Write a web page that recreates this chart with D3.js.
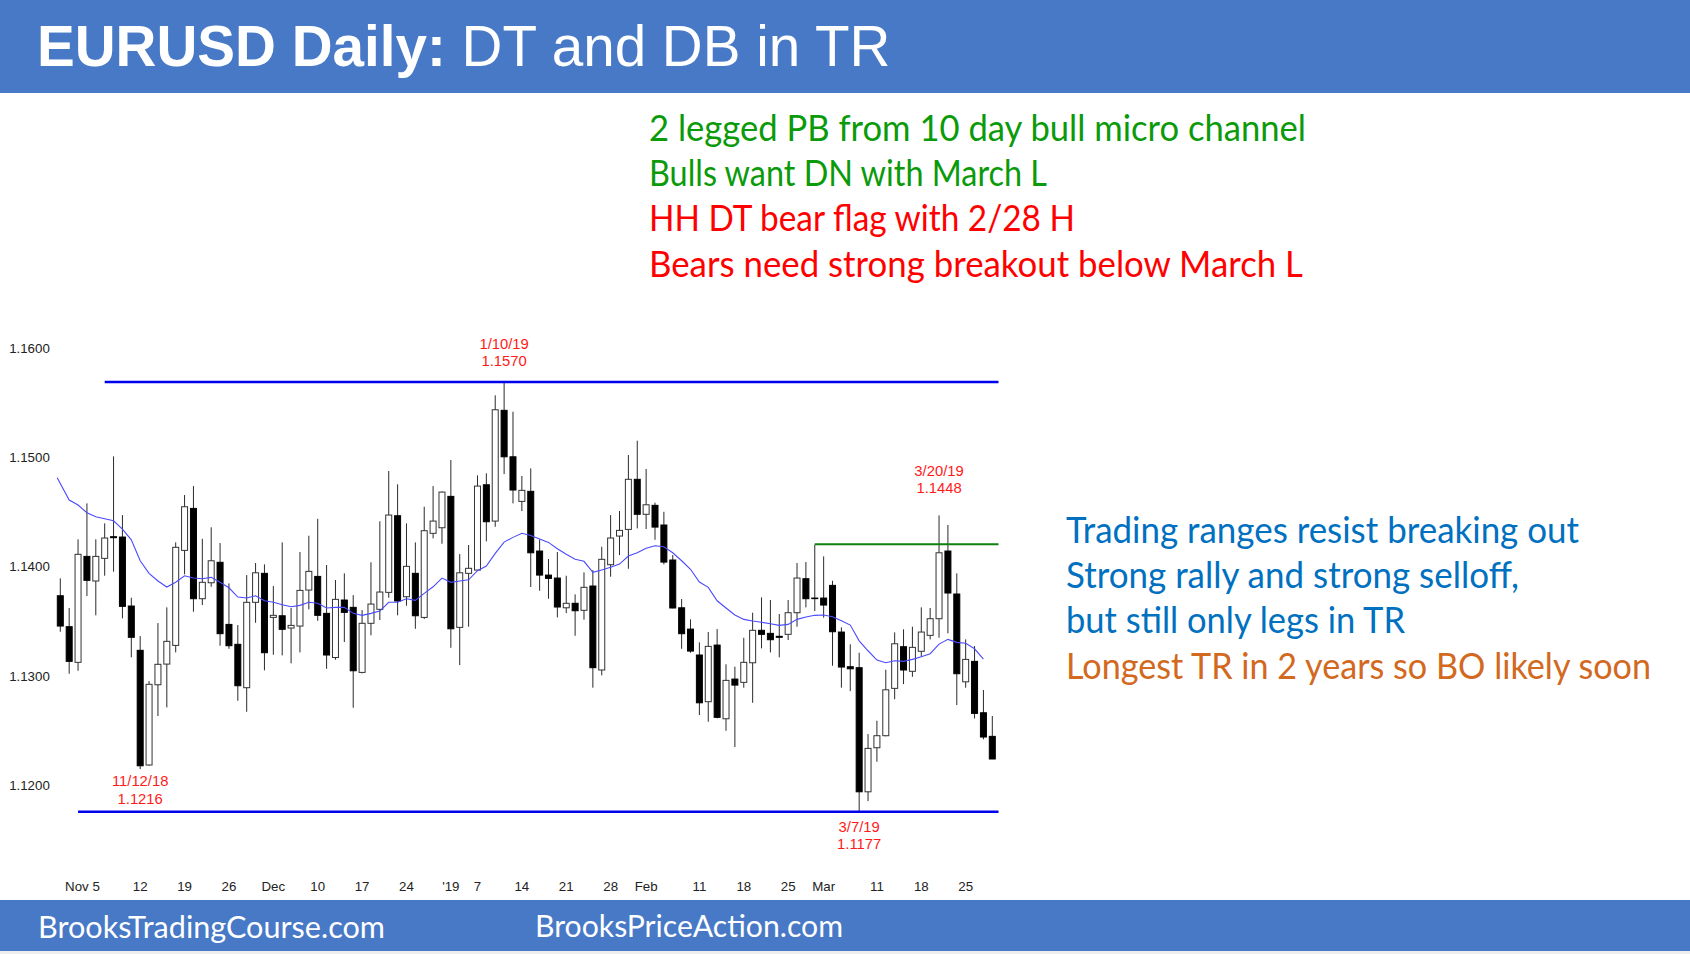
<!DOCTYPE html>
<html><head><meta charset="utf-8">
<script src="https://cdn.jsdelivr.net/npm/d3@7"></script>
<style>html,body{margin:0;padding:0;background:#fff}svg{display:block}</style></head>
<body><div id="chart"></div>
<script>
const opens=[1.13745,1.13462,1.13136,1.14105,1.13880,1.14087,1.14285,1.14282,1.13651,1.13246,1.12197,1.12931,1.13120,1.13291,1.14160,1.14544,1.13718,1.13864,1.14051,1.13483,1.13301,1.12904,1.13685,1.13950,1.13547,1.13562,1.13450,1.13468,1.13797,1.13922,1.13584,1.13180,1.13706,1.13639,1.13044,1.13493,1.13621,1.13776,1.14477,1.13736,1.13950,1.13547,1.14316,1.14367,1.14654,1.13456,1.13950,1.13980,1.14760,1.14428,1.15441,1.15016,1.14608,1.14700,1.14154,1.13934,1.13907,1.13635,1.13676,1.13612,1.13834,1.13066,1.14029,1.14291,1.14352,1.14810,1.14490,1.14572,1.14392,1.14072,1.13635,1.13440,1.13203,1.12776,1.13294,1.12620,1.12983,1.12953,1.13132,1.13429,1.13401,1.13374,1.13392,1.13590,1.13901,1.13724,1.13724,1.13840,1.13413,1.13096,1.13087,1.11952,1.12355,1.12465,1.12898,1.13279,1.13054,1.13237,1.13383,1.13535,1.14154,1.13761,1.12958,1.13145,1.12675,1.12459];
const highs=[1.13904,1.13633,1.14261,1.14590,1.14261,1.14407,1.15020,1.14483,1.13727,1.13376,1.12965,1.13495,1.13639,1.14233,1.14666,1.14748,1.14266,1.14371,1.14227,1.13858,1.13477,1.13934,1.14044,1.14032,1.13834,1.14233,1.13633,1.14145,1.14294,1.14449,1.14026,1.13889,1.13950,1.13751,1.13614,1.14051,1.14426,1.14886,1.14764,1.14407,1.14233,1.14559,1.14748,1.14700,1.14986,1.14126,1.14209,1.14846,1.14865,1.15578,1.15700,1.15428,1.14840,1.14910,1.14261,1.14081,1.14145,1.13928,1.13758,1.13959,1.13980,1.14193,1.14483,1.14520,1.15032,1.15163,1.14904,1.14596,1.14513,1.14117,1.13715,1.13529,1.13319,1.13413,1.13440,1.13118,1.13096,1.13361,1.13590,1.13730,1.13706,1.13578,1.13706,1.14044,1.14053,1.14212,1.14105,1.13882,1.13456,1.13301,1.13224,1.12480,1.12602,1.13068,1.13410,1.13438,1.13462,1.13639,1.13633,1.14480,1.14392,1.13950,1.13346,1.13285,1.12883,1.12645];
const lows=[1.13416,1.13032,1.13059,1.13742,1.13566,1.13928,1.13965,1.13538,1.13182,1.12160,1.12190,1.12645,1.12724,1.13227,1.13941,1.13599,1.13660,1.13827,1.13288,1.13260,1.12785,1.12684,1.13498,1.13063,1.13205,1.13200,1.13127,1.13227,1.13621,1.13516,1.13077,1.13160,1.13322,1.12721,1.13035,1.13383,1.13523,1.13727,1.13566,1.13654,1.13443,1.13532,1.14270,1.14221,1.13269,1.13111,1.13462,1.13974,1.14243,1.14376,1.14858,1.14590,1.14520,1.13825,1.13791,1.13718,1.13547,1.13587,1.13379,1.13526,1.12904,1.13017,1.13919,1.14117,1.13992,1.14361,1.14355,1.14257,1.14032,1.13630,1.13260,1.13224,1.12654,1.12593,1.12624,1.12510,1.12361,1.12904,1.12766,1.13264,1.13227,1.13182,1.13340,1.13462,1.13639,1.13605,1.13544,1.13105,1.12904,1.12873,1.11770,1.11867,1.12227,1.12459,1.12798,1.12937,1.13004,1.13187,1.13346,1.13361,1.13401,1.12745,1.12904,1.12622,1.12432,1.12252];
const closes=[1.13468,1.13145,1.14124,1.13886,1.14105,1.14273,1.14276,1.13648,1.13365,1.12190,1.12935,1.13118,1.13328,1.14188,1.14559,1.13718,1.13868,1.14065,1.13398,1.13288,1.12922,1.13685,1.13955,1.13224,1.13566,1.13438,1.13474,1.13794,1.13968,1.13566,1.13203,1.13712,1.13593,1.13059,1.13493,1.13669,1.13779,1.14483,1.13697,1.14014,1.13562,1.14340,1.14428,1.14693,1.13443,1.13955,1.13996,1.14748,1.14422,1.15446,1.15016,1.14712,1.14709,1.14138,1.13934,1.13904,1.13642,1.13676,1.13608,1.13822,1.13087,1.14078,1.14273,1.14343,1.14810,1.14490,1.14577,1.14373,1.14053,1.13633,1.13398,1.13239,1.12766,1.13282,1.12633,1.12971,1.12928,1.13136,1.13429,1.13392,1.13343,1.13365,1.13590,1.13907,1.13718,1.13721,1.13660,1.13416,1.13093,1.13077,1.11952,1.12349,1.12465,1.12885,1.13306,1.13066,1.13273,1.13413,1.13535,1.14138,1.13770,1.13032,1.13163,1.12669,1.12453,1.12252];
const ma20=[1.14824,1.14620,1.14575,1.14504,1.14468,1.14449,1.14431,1.14355,1.14257,1.14065,1.13950,1.13880,1.13825,1.13868,1.13928,1.13907,1.13901,1.13913,1.13868,1.13818,1.13733,1.13724,1.13745,1.13699,1.13685,1.13663,1.13644,1.13657,1.13685,1.13676,1.13633,1.13639,1.13639,1.13584,1.13566,1.13584,1.13605,1.13685,1.13685,1.13718,1.13703,1.13767,1.13827,1.13907,1.13868,1.13880,1.13891,1.13974,1.14017,1.14133,1.14236,1.14279,1.14316,1.14297,1.14264,1.14233,1.14175,1.14124,1.14078,1.14060,1.13959,1.13980,1.14005,1.14035,1.14108,1.14138,1.14179,1.14202,1.14193,1.14138,1.14065,1.13987,1.13870,1.13822,1.13699,1.13633,1.13569,1.13529,1.13514,1.13502,1.13489,1.13474,1.13483,1.13529,1.13550,1.13566,1.13569,1.13553,1.13516,1.13477,1.13333,1.13242,1.13157,1.13132,1.13151,1.13145,1.13163,1.13187,1.13215,1.13303,1.13346,1.13319,1.13310,1.13260,1.13166];
const yTicks=[1.12,1.13,1.14,1.15,1.16];
const xTickIndex=[4,9,14,19,24,29,34,39,44,47,52,57,62,66,72,77,82,86,92,97,102];
const xTickLabels=["Nov 5","12","19","26","Dec","10","17","24","'19","7","14","21","28","Feb","11","18","25","Mar","11","18","25"];
const levels=[{p:1.1570,from:5,to:105.7,c:"#0000ee",w:2.6},{p:1.1177,from:2,to:105.7,c:"#0000ee",w:2.6},{p:1.14215,from:85,to:105.7,c:"#108010",w:2}];
const callouts=[{i:50,lines:["1/10/19","1.1570"],y:[343.7,360.7]},{i:9,lines:["11/12/18","1.1216"],y:[781,798.5]},{i:99,lines:["3/20/19","1.1448"],y:[470.7,488]},{i:90,lines:["3/7/19","1.1177"],y:[827,844.3]}];
const topNotes=[["2 legged PB from 10 day bull micro channel","#0a9a0a",657],["Bulls want DN with March L","#0a9a0a",398],["HH DT bear flag with 2/28 H","#ff0000",426],["Bears need strong breakout below March L","#ff0000",654]];
const sideNotes=[["Trading ranges resist breaking out","#0070c0",513],["Strong rally and strong selloff,","#0070c0",453],["but still only legs in TR","#0070c0",339],["Longest TR in 2 years so BO likely soon","#d2691e",585]];

const W=1690,H=954;
const svg=d3.select("#chart").append("svg").attr("width",W).attr("height",H).attr("viewBox",[0,0,W,H]);
const x=d3.scaleLinear().domain([0,105]).range([60.3,992.3]);
const y=d3.scaleLinear().domain([1.1177,1.1570]).range([811.7,382]);
const sans="'Liberation Sans',Arial,sans-serif", note="Lato,'Open Sans',sans-serif";

svg.append("rect").attr("width",W).attr("height",H).attr("fill","#fff");
svg.append("rect").attr("width",W).attr("height",93).attr("fill","#4779c7");
svg.append("rect").attr("y",900).attr("width",W).attr("height",51).attr("fill","#4779c7");
svg.append("rect").attr("y",951).attr("width",W).attr("height",3).attr("fill","#eeeeee");
const title=svg.append("text").attr("x",37).attr("y",66).attr("font-family",sans).attr("font-size",56.6).attr("fill","#fff");
title.append("tspan").attr("font-weight","bold").text("EURUSD Daily: ");
title.append("tspan").text("DT and DB in TR");
svg.append("text").attr("x",38).attr("y",938).attr("font-family",note).attr("font-size",30).attr("fill","#fff").attr("textLength",347).attr("lengthAdjust","spacingAndGlyphs").text("BrooksTradingCourse.com");
svg.append("text").attr("x",535).attr("y",937).attr("font-family",note).attr("font-size",30).attr("fill","#fff").attr("textLength",308).attr("lengthAdjust","spacingAndGlyphs").text("BrooksPriceAction.com");

svg.selectAll("text.top").data(topNotes).join("text").attr("class","top").attr("x",649).attr("y",(d,i)=>141+i*45.2)
 .attr("font-family",note).attr("font-size",36).attr("fill",d=>d[1]).attr("textLength",d=>d[2]).attr("lengthAdjust","spacingAndGlyphs").text(d=>d[0]);
svg.selectAll("text.side").data(sideNotes).join("text").attr("class","side").attr("x",1066).attr("y",(d,i)=>543+i*45.2)
 .attr("font-family",note).attr("font-size",36).attr("fill",d=>d[1]).attr("textLength",d=>d[2]).attr("lengthAdjust","spacingAndGlyphs").text(d=>d[0]);

const yAxis=d3.axisLeft(y).tickValues(yTicks).tickSize(0).tickPadding(0).tickFormat(d3.format(".4f"));
const gy=svg.append("g").attr("transform","translate(49.8,-1.2)").call(yAxis);
gy.select(".domain").remove();
gy.selectAll("text").attr("font-family",sans).attr("font-size",13.3).attr("fill","#222");
const xAxis=d3.axisBottom(x).tickValues(xTickIndex).tickSize(0).tickPadding(0).tickFormat((d,i)=>xTickLabels[i]);
const gx=svg.append("g").attr("transform","translate(-0.5,880)").call(xAxis);
gx.select(".domain").remove();
gx.selectAll("text").attr("font-family",sans).attr("font-size",13.3).attr("fill","#222").attr("dy",0).attr("y",11)
 .attr("text-anchor",(d,i)=>i===0?"end":"middle").attr("dx",(d,i)=>i===0?4:0);

const bars=svg.append("g");
opens.forEach((o,i)=>{
  const c=closes[i], px=x(i), bull=c>o;
  bars.append("line").attr("x1",px).attr("x2",px).attr("y1",y(highs[i])).attr("y2",y(lows[i])).attr("stroke","#2a2a2a").attr("stroke-width",1);
  const top=y(Math.max(o,c)), bot=y(Math.min(o,c));
  bars.append("rect").attr("x",px-3).attr("width",6).attr("y",top).attr("height",Math.max(bot-top,0.6))
    .attr("fill",bull?"#fff":"#000").attr("stroke",bull?"#333":"#000").attr("stroke-width",1);
});
const maLine=d3.line().x((d,i)=>x(i===0?-0.35:i)).y(d=>y(d));
svg.append("path").attr("d",maLine(ma20)).attr("fill","none").attr("stroke","#4a4aff").attr("stroke-width",1.1);
levels.forEach(l=>svg.append("line").attr("x1",x(l.from)).attr("x2",x(l.to)).attr("y1",y(l.p)).attr("y2",y(l.p)).attr("stroke",l.c).attr("stroke-width",l.w));
callouts.forEach(c=>c.lines.forEach((t,k)=>svg.append("text").attr("x",x(c.i)).attr("y",c.y[k]+5).attr("text-anchor","middle")
  .attr("font-family",sans).attr("font-size",14.8).attr("fill","#ff1a1a").text(t)));
</script></body></html>
